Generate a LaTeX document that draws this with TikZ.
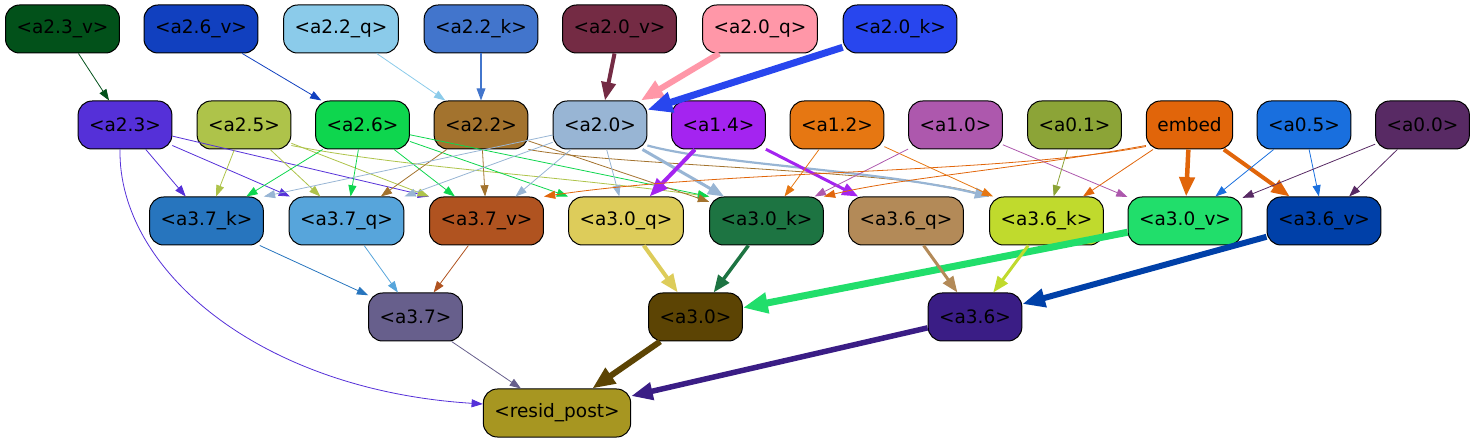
\documentclass[tikz,border=0pt]{standalone}
\usepackage{fontspec}
\setmainfont{DejaVu Sans}
\usetikzlibrary{arrows.meta}
\definecolor{c23v}{HTML}{02511A}
\definecolor{c26v}{HTML}{1140BF}
\definecolor{c22q}{HTML}{8BCBEA}
\definecolor{c22k}{HTML}{4275CC}
\definecolor{c20v}{HTML}{742B44}
\definecolor{c20q}{HTML}{FF97A8}
\definecolor{c20k}{HTML}{2846EE}
\definecolor{c23}{HTML}{5530D8}
\definecolor{c25}{HTML}{AEC34A}
\definecolor{c26}{HTML}{0ED64E}
\definecolor{c22}{HTML}{A3732E}
\definecolor{c20}{HTML}{98B5D4}
\definecolor{c14}{HTML}{A424F0}
\definecolor{c12}{HTML}{E67712}
\definecolor{c10}{HTML}{AD58AD}
\definecolor{c01}{HTML}{8CA437}
\definecolor{cemb}{HTML}{E1650A}
\definecolor{c05}{HTML}{196FDE}
\definecolor{c00}{HTML}{582A64}
\definecolor{c37k}{HTML}{2775BE}
\definecolor{c37q}{HTML}{57A5DB}
\definecolor{c37v}{HTML}{B05320}
\definecolor{c30q}{HTML}{DDCC5A}
\definecolor{c30k}{HTML}{1D7442}
\definecolor{c36q}{HTML}{B38A58}
\definecolor{c36k}{HTML}{C0DA2D}
\definecolor{c30v}{HTML}{21DE6B}
\definecolor{c36v}{HTML}{0040A8}
\definecolor{c37}{HTML}{675F8C}
\definecolor{c30}{HTML}{5C4404}
\definecolor{c36}{HTML}{3A1D85}
\definecolor{cres}{HTML}{A79621}
\tikzset{
  nd/.style={draw=black, line width=1pt, rounded corners=14pt, minimum height=48pt,
    inner xsep=11pt, inner ysep=0pt, font=\fontsize{18.5}{22}\selectfont, text=black, fill=#1},
  e/.code 2 args={\pgfmathsetmacro\alen{9.5+2.2*#2}\pgfmathsetmacro\awid{6.5+1.9*#2}%
    \tikzset{draw=#1,line width=#2pt,-{Triangle[length=\alen pt,width=\awid pt]}}}
}
\begin{document}
\begin{tikzpicture}[x=1pt,y=1pt]
\useasboundingbox (0,0) rectangle (1475,-443);
% row 1
\node[nd=c23v] (a2_3v) at (62.5,-29) {<a2.3\_v>};
\node[nd=c26v] (a2_6v) at (201,-29) {<a2.6\_v>};
\node[nd=c22q] (a2_2q) at (341,-29) {<a2.2\_q>};
\node[nd=c22k] (a2_2k) at (481,-29) {<a2.2\_k>};
\node[nd=c20v] (a2_0v) at (619.5,-29) {<a2.0\_v>};
\node[nd=c20q] (a2_0q) at (760,-29) {<a2.0\_q>};
\node[nd=c20k] (a2_0k) at (900,-29) {<a2.0\_k>};
% row 2
\node[nd=c23] (a2_3) at (125,-125) {<a2.3>};
\node[nd=c25] (a2_5) at (244,-125) {<a2.5>};
\node[nd=c26] (a2_6) at (362.5,-125) {<a2.6>};
\node[nd=c22] (a2_2) at (481,-125) {<a2.2>};
\node[nd=c20] (a2_0) at (600,-125) {<a2.0>};
\node[nd=c14] (a1_4) at (718.5,-125) {<a1.4>};
\node[nd=c12] (a1_2) at (837,-125) {<a1.2>};
\node[nd=c10] (a1_0) at (955.5,-125) {<a1.0>};
\node[nd=c01] (a0_1) at (1074.5,-125) {<a0.1>};
\node[nd=cemb] (embed) at (1189.5,-125) {embed};
\node[nd=c05] (a0_5) at (1304,-125) {<a0.5>};
\node[nd=c00] (a0_0) at (1422.5,-125) {<a0.0>};
% row 3
\node[nd=c37k] (a3_7k) at (206.5,-221) {<a3.7\_k>};
\node[nd=c37q] (a3_7q) at (346.5,-221) {<a3.7\_q>};
\node[nd=c37v] (a3_7v) at (486.5,-221) {<a3.7\_v>};
\node[nd=c30q] (a3_0q) at (626,-221) {<a3.0\_q>};
\node[nd=c30k] (a3_0k) at (766.5,-221) {<a3.0\_k>};
\node[nd=c36q] (a3_6q) at (906,-221) {<a3.6\_q>};
\node[nd=c36k] (a3_6k) at (1046.5,-221) {<a3.6\_k>};
\node[nd=c30v] (a3_0v) at (1185,-221) {<a3.0\_v>};
\node[nd=c36v] (a3_6v) at (1324,-221) {<a3.6\_v>};
% row 4
\node[nd=c37] (a3_7) at (415.5,-317) {<a3.7>};
\node[nd=c30] (a3_0) at (695.5,-317) {<a3.0>};
\node[nd=c36] (a3_6) at (975,-317) {<a3.6>};
% row 5
\node[nd=cres] (resid) at (557,-413) {<resid\_post>};

% row1 -> row2
\draw[e={c23v}{0.8}] (a2_3v) -- (a2_3);
\draw[e={c26v}{0.8}] (a2_6v) -- (a2_6);
\draw[e={c22q}{0.8}] (a2_2q) -- (a2_2);
\draw[e={c22k}{1.2}] (a2_2k) -- (a2_2);
\draw[e={c20v}{4}] (a2_0v) -- (a2_0);
\draw[e={c20q}{6}] (a2_0q) -- (a2_0);
\draw[e={c20k}{7}] (a2_0k) -- (a2_0);

% row2 -> row3
\draw[e={c23}{0.8}] (a2_3) -- (a3_7k);
\draw[e={c23}{0.8}] (a2_3) -- (a3_7q);
\draw[e={c23}{0.8}] (a2_3) -- (a3_7v.north west);
\draw[e={c25}{0.8}] (a2_5) -- (a3_7k);
\draw[e={c25}{0.8}] (a2_5) -- (a3_7q);
\draw[e={c25}{0.8}] (a2_5) -- (a3_7v.north west);
\draw[e={c25}{0.8}] ([yshift=4pt]a2_5.south east) .. controls (400,-167) and (560,-176) .. (a3_0k.north west);
\draw[e={c26}{0.8}] (a2_6) -- (a3_7k);
\draw[e={c26}{0.8}] (a2_6) -- (a3_7q);
\draw[e={c26}{0.8}] (a2_6) -- (a3_7v);
\draw[e={c26}{0.8}] (a2_6) -- (a3_0q.north west);
\draw[e={c26}{0.8}] (a2_6) -- (a3_0k.north west);
\draw[e={c22}{0.8}] (a2_2) -- (a3_7q);
\draw[e={c22}{0.8}] (a2_2) -- (a3_7v);
\draw[e={c22}{0.8}] (a2_2) -- (a3_0k);
\draw[e={c22}{0.8}] (a2_2.south east) .. controls (620,-166) and (900,-170) .. (a3_6k.north west);
\draw[e={c20}{0.8}] (a2_0) -- (a3_7k.north east);
\draw[e={c20}{0.8}] (a2_0) -- (a3_7q.north east);
\draw[e={c20}{0.8}] (a2_0) -- (a3_7v);
\draw[e={c20}{0.8}] (a2_0) -- (a3_0q);
\draw[e={c20}{3}] (a2_0) -- (a3_0k);
\draw[e={c20}{2.2}] ([yshift=4pt]a2_0.south east) .. controls (720,-165) and (880,-170) .. (a3_6k.north west);
\draw[e={c14}{4}] (a1_4) -- (a3_0q);
\draw[e={c14}{3}] (a1_4) -- (a3_6q);
\draw[e={c12}{0.8}] (a1_2) -- (a3_0k);
\draw[e={c12}{0.8}] (a1_2) -- (a3_6k);
\draw[e={c10}{0.8}] (a1_0) -- (a3_0k);
\draw[e={c10}{0.8}] (a1_0) -- (a3_0v);
\draw[e={c01}{0.8}] (a0_1) -- (a3_6k);
\draw[e={cemb}{0.8}] ([yshift=3pt]embed.south west) .. controls (1000,-174) and (720,-170) .. (a3_7v.north east);
\draw[e={cemb}{0.8}] ([yshift=4pt]embed.south west) .. controls (1010,-170) and (900,-178) .. (a3_0k.north east);
\draw[e={cemb}{0.8}] (embed) -- (a3_6k);
\draw[e={cemb}{4.5}] (embed) -- (a3_0v);
\draw[e={cemb}{4}] (embed) -- (a3_6v);
\draw[e={c05}{0.8}] (a0_5) -- (a3_0v);
\draw[e={c05}{0.8}] (a0_5) -- (a3_6v);
\draw[e={c00}{0.8}] (a0_0) -- (a3_0v);
\draw[e={c00}{0.8}] (a0_0) -- (a3_6v);

% row3 -> row4
\draw[e={c37k}{0.8}] (a3_7k) -- (a3_7);
\draw[e={c37q}{0.8}] (a3_7q) -- (a3_7);
\draw[e={c37v}{0.8}] (a3_7v) -- (a3_7);
\draw[e={c30q}{4}] (a3_0q) -- (a3_0);
\draw[e={c30k}{3.5}] (a3_0k) -- (a3_0);
\draw[e={c30v}{7}] (a3_0v) -- (a3_0);
\draw[e={c36q}{3}] (a3_6q) -- (a3_6);
\draw[e={c36k}{3}] (a3_6k) -- (a3_6);
\draw[e={c36v}{6}] (a3_6v) -- (a3_6);

% -> resid_post
\draw[e={c23}{0.8}] ([xshift=-5pt]a2_3.south) .. controls (118,-270) and (260,-390) .. ([yshift=9pt]resid.west);
\draw[e={c37}{0.8}] (a3_7) -- (resid);
\draw[e={c30}{6}] (a3_0) -- (resid);
\draw[e={c36}{5.5}] (a3_6) -- (resid);
\end{tikzpicture}
\end{document}
